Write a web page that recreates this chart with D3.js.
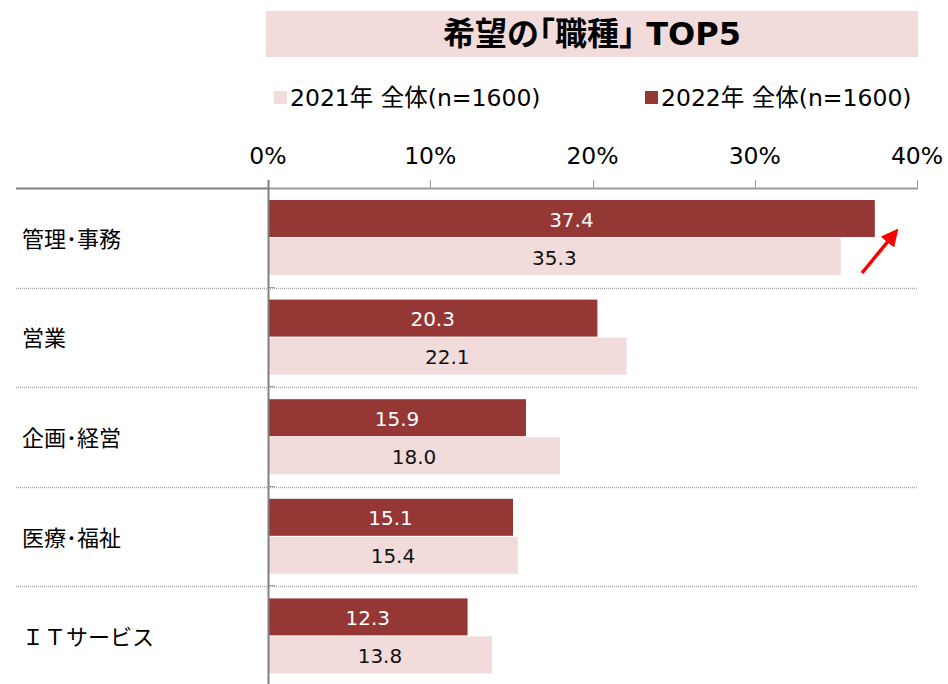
<!DOCTYPE html>
<html>
<head>
<meta charset="utf-8">
<script src="https://cdn.jsdelivr.net/npm/d3@7"></script>
<style>
  body { margin: 0; background: #fff; }
  text { font-family: "DejaVu Sans", "Noto Sans CJK JP", sans-serif; }
  .jp { font-family: "Noto Sans CJK JP", sans-serif; }
</style>
</head>
<body>
<script>
var categories = ["管理･事務", "営業", "企画･経営", "医療･福祉", "ＩＴサービス"];
var values2022 = [37.4, 20.3, 15.9, 15.1, 12.3];
var values2021 = [35.3, 22.1, 18.0, 15.4, 13.8];
var seriesNames = ["2021年 全体(n=1600)", "2022年 全体(n=1600)"];
var xTicks = [0, 10, 20, 30, 40];

var width = 948, height = 684;
var darkRed = "#953735", lightPink = "#f2dcdb";

var svg = d3.select("body").append("svg")
    .attr("width", width)
    .attr("height", height);

// title box
svg.append("rect")
    .attr("x", 266).attr("y", 11)
    .attr("width", 652).attr("height", 46)
    .attr("fill", lightPink);
svg.append("text")
    .attr("x", 592).attr("y", 45)
    .attr("text-anchor", "middle")
    .attr("font-size", 32)
    .attr("font-weight", "bold")
    .attr("fill", "#000")
    .text("希望の｢職種｣ TOP5");

// legend
var legend = svg.append("g");
var legendItems = [
    { name: seriesNames[0], color: lightPink, x: 274 },
    { name: seriesNames[1], color: darkRed, x: 645 }
];
legendItems.forEach(function (d) {
    legend.append("rect")
        .attr("x", d.x).attr("y", 91)
        .attr("width", 13).attr("height", 13)
        .attr("fill", d.color);
    legend.append("text")
        .attr("x", d.x + 16).attr("y", 106)
        .attr("font-size", 23.5)
        .attr("fill", "#000")
        .text(d.name);
});

var x = d3.scaleLinear().domain([0, 40]).range([268, 917]);
var y = d3.scaleBand().domain(categories).range([188, 686]);

// x axis labels
svg.append("g")
    .selectAll("text")
    .data(xTicks)
    .enter()
    .append("text")
    .attr("x", function (d) { return x(d); })
    .attr("y", 164)
    .attr("text-anchor", "middle")
    .attr("font-size", 23.5)
    .attr("fill", "#000")
    .text(function (d) { return d + "%"; });

// top line (left part darker)
svg.append("line")
    .attr("x1", 16).attr("x2", x(0))
    .attr("y1", 188.5).attr("y2", 188.5)
    .attr("stroke", "#808080")
    .attr("stroke-width", 2);
svg.append("line")
    .attr("x1", x(0)).attr("x2", 918)
    .attr("y1", 188.5).attr("y2", 188.5)
    .attr("stroke", "#9a9a9a")
    .attr("stroke-width", 2);
// x ticks upward
svg.append("g")
    .selectAll("line")
    .data(xTicks.slice(1))
    .enter()
    .append("line")
    .attr("x1", function (d) { return Math.round(x(d)) + 0.5; })
    .attr("x2", function (d) { return Math.round(x(d)) + 0.5; })
    .attr("y1", 180).attr("y2", 188)
    .attr("stroke", "#9a9a9a");

// dotted separators
svg.append("g")
    .selectAll("line")
    .data(categories.slice(1))
    .enter()
    .append("line")
    .attr("x1", 16).attr("x2", 917)
    .attr("y1", function (d) { return Math.round(y(d)) + 0.5; })
    .attr("y2", function (d) { return Math.round(y(d)) + 0.5; })
    .attr("stroke", "#a6a6a6")
    .attr("stroke-width", 1.5)
    .attr("stroke-dasharray", "1,1");

// bars
var barH = 37;
var groups = svg.append("g")
    .selectAll("g")
    .data(categories)
    .enter()
    .append("g")
    .attr("transform", function (d) { return "translate(0," + y(d) + ")"; });

groups.append("rect")
    .attr("x", x(0))
    .attr("y", 12)
    .attr("width", function (d, i) { return x(values2022[i]) - x(0); })
    .attr("height", barH)
    .attr("fill", darkRed);
groups.append("rect")
    .attr("x", x(0))
    .attr("y", 12 + barH + 1)
    .attr("width", function (d, i) { return x(values2021[i]) - x(0); })
    .attr("height", barH)
    .attr("fill", lightPink);

groups.append("text")
    .attr("x", function (d, i) { return (x(0) + x(values2022[i])) / 2; })
    .attr("y", 12 + barH / 2 + 8)
    .attr("text-anchor", "middle")
    .attr("font-size", 20)
    .attr("fill", "#fff")
    .text(function (d, i) { return values2022[i].toFixed(1); });
groups.append("text")
    .attr("x", function (d, i) { return (x(0) + x(values2021[i])) / 2; })
    .attr("y", 13 + barH * 1.5 + 8)
    .attr("text-anchor", "middle")
    .attr("font-size", 20)
    .attr("fill", "#111")
    .text(function (d, i) { return values2021[i].toFixed(1); });

// category labels
groups.append("text")
    .attr("class", "jp")
    .attr("x", 22)
    .attr("y", y.bandwidth() / 2 + 9)
    .attr("font-size", 22)
    .attr("fill", "#000")
    .text(function (d) { return d; });

// small tick marks at separators
svg.append("g")
    .selectAll("line")
    .data(categories.slice(1).concat(["end"]))
    .enter()
    .append("line")
    .attr("x1", x(0)).attr("x2", x(0) + 7)
    .attr("y1", function (d) { return d === "end" ? 685.5 : Math.round(y(d)) - 0.5; })
    .attr("y2", function (d) { return d === "end" ? 685.5 : Math.round(y(d)) - 0.5; })
    .attr("stroke", "#a0a0a0");

// vertical axis
svg.append("line")
    .attr("x1", x(0) + 0.5).attr("x2", x(0) + 0.5)
    .attr("y1", 180).attr("y2", 686)
    .attr("stroke", "#808080")
    .attr("stroke-width", 2);

// red arrow
svg.append("defs").append("marker")
    .attr("id", "arrow")
    .attr("viewBox", "0 -5 10 10")
    .attr("refX", 6)
    .attr("markerWidth", 5)
    .attr("markerHeight", 5)
    .attr("orient", "auto")
    .append("path")
    .attr("d", "M0,-5L10,0L0,5Z")
    .attr("fill", "#ff0000");
svg.append("line")
    .attr("x1", 862).attr("y1", 273)
    .attr("x2", 894).attr("y2", 234)
    .attr("stroke", "#ff0000")
    .attr("stroke-width", 3.5)
    .attr("marker-end", "url(#arrow)");
</script>
</body>
</html>
